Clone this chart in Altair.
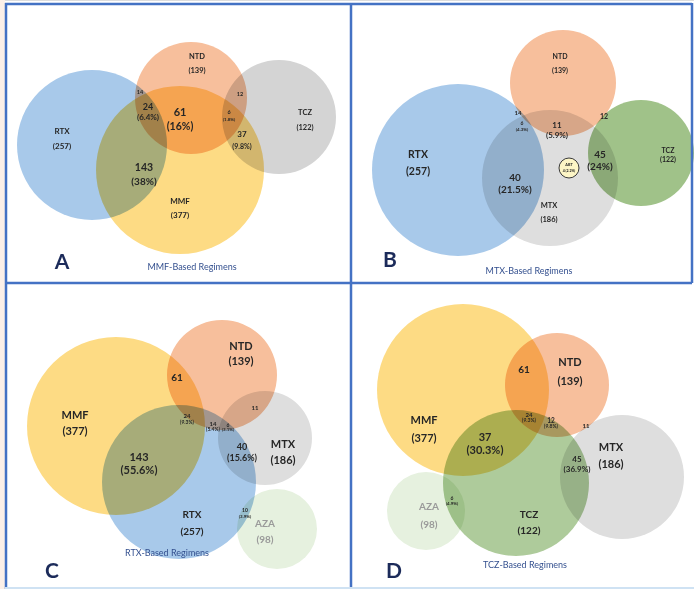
import altair as alt
import pandas as pd

W, H = 694, 589

# ---------------- data (counts / labels) ----------------
panels = ["A", "B", "C", "D"]
captions = ["MMF-Based Regimens", "MTX-Based Regimens", "RTX-Based Regimens", "TCZ-Based Regimens"]

set_sizes = {"RTX": 257, "MMF": 377, "NTD": 139, "TCZ": 122, "MTX": 186, "AZA": 98}

# circles per panel (set name)
circ_sets_A = ["RTX", "MMF", "NTD", "TCZ"]
circ_sets_B = ["RTX", "NTD", "MTX", "TCZ"]
circ_sets_C = ["MMF", "NTD", "MTX", "RTX", "AZA"]
circ_sets_D = ["MMF", "NTD", "MTX", "TCZ", "AZA"]

# intersection labels per panel (count, percent or "")
inter_A = [("14", ""), ("24", "(6.4%)"), ("61", "(16%)"), ("12", ""), ("6", "(1.8%)"),
           ("37", "(9.8%)"), ("143", "(38%)")]
inter_B = [("14", ""), ("6", "(4.3%)"), ("11", "(5.9%)"), ("12", ""), ("45", "(24%)"),
           ("40", "(21.5%)")]
inter_C = [("61", ""), ("24", "(9.3%)"), ("14", "(5.4%)"), ("6", "(3.1%)"), ("11", ""),
           ("40", "(15.6%)"), ("143", "(55.6%)"), ("10", "(3.9%)")]
inter_D = [("61", ""), ("24", "(9.3%)"), ("12", "(9.8%)"), ("11", ""), ("37", "(30.3%)"),
           ("45", "(36.9%)"), ("6", "(4.9%)")]
abt_label = ("ABT", "4 (2.2%)")

# ---------------- layout (positions, radii, styles) ----------------
colors = {"RTX": "#a8c9ea", "MMF": "#fddb84", "NTD": "#f7bf9c", "MTX": "#dedede",
          "AZA": "#e6f1df"}
tcz_color = {"A": "#d4d4d4", "B": "#a0c289", "D": "#aecb9b"}

circ_layout = {
    "A": [(92, 145, 75), (180, 170, 84), (191, 98, 56), (279, 117, 57)],
    "B": [(458, 170, 86), (563, 83, 53), (550, 178, 68), (641, 153, 53)],
    "C": [(116, 426, 89), (222, 375, 55), (265, 438, 47), (179, 482, 77), (277, 529, 40)],
    "D": [(463, 390, 86), (557, 385, 52), (622, 477, 62), (516, 483, 73), (426, 511, 39)],
}
# set-name label positions: (x, y_name, y_count, font size)
setlab_layout = {
    "A": [(62, 132, 147, 8), (180, 202, 216, 8), (197, 57, 71, 7.5), (305, 113, 128, 7.5)],
    "B": [(418, 155, 172, 10.5), (560, 57, 71, 7), (549, 206, 220, 7.5), (668, 151, 160, 7)],
    "C": [(75, 416, 432, 11), (241, 347, 362, 11), (283, 445, 461, 11), (192, 515, 532, 10),
          (265, 524, 540, 10)],
    "D": [(424, 421, 439, 11), (570, 363, 382, 11), (611, 448, 465, 11), (529, 515, 531, 10),
          (429, 507, 525, 10)],
}
# intersection label positions: (x, y_count, y_pct, size_count, size_pct)
inter_layout = {
    "A": [(140, 92, 0, 5.5, 0), (148, 107, 118, 9, 8), (180, 113, 127, 11, 10.5),
          (240, 94, 0, 5.5, 0), (229, 112, 120, 5.5, 4.5), (242, 135, 147, 8, 7),
          (144, 168, 182, 10.5, 10)],
    "B": [(518, 113, 0, 6, 0), (522, 123, 130, 5, 4.5), (557, 126, 136, 8, 8),
          (604, 117, 0, 7, 0), (600, 155, 167, 10, 10), (515, 178, 190, 10, 10)],
    "C": [(177, 378, 0, 10, 0), (187, 416, 422, 6, 5), (213, 424, 429, 6, 5),
          (228, 425, 430, 5, 4.5), (255, 408, 0, 6, 0), (242, 447, 458, 9, 9),
          (139, 458, 471, 11, 11), (245, 510, 517, 5, 4.5)],
    "D": [(524, 370, 0, 10, 0), (529, 415, 420, 6, 5), (551, 421, 426, 6.5, 5),
          (586, 426, 0, 6, 0), (485, 438, 451, 11, 11), (577, 460, 470, 8, 8),
          (452, 498, 504, 5, 4.5)],
}
letter_layout = {"A": (62, 263), "B": (390, 261), "C": (52, 572), "D": (394, 572)}
caption_layout = {"A": (192, 267), "B": (529, 271), "C": (167, 553), "D": (525, 565)}

# ---------------- build tables ----------------
circ_rows = []
set_lists = {"A": circ_sets_A, "B": circ_sets_B, "C": circ_sets_C, "D": circ_sets_D}
for p in panels:
    for name, (cx, cy, r) in zip(set_lists[p], circ_layout[p]):
        col = tcz_color[p] if name == "TCZ" else colors[name]
        circ_rows.append({"panel": p, "set": name, "x": cx, "y": cy, "size": (2 * r) ** 2,
                          "color": col})
circ_df = pd.DataFrame(circ_rows)

text_rows = []
DARK = "#262626"
for p in panels:
    for name, (x, yn, yc, fs) in zip(set_lists[p], setlab_layout[p]):
        col = "#9a9a9a" if name == "AZA" else DARK
        text_rows.append({"t": name, "x": x, "y": yn, "s": fs, "c": col})
        text_rows.append({"t": f"({set_sizes[name]})", "x": x, "y": yc, "s": fs, "c": col})
inter_lists = {"A": inter_A, "B": inter_B, "C": inter_C, "D": inter_D}
for p in panels:
    for (cnt, pct), (x, yc, yp, sc, sp) in zip(inter_lists[p], inter_layout[p]):
        text_rows.append({"t": cnt, "x": x, "y": yc, "s": sc, "c": DARK})
        if pct:
            text_rows.append({"t": pct, "x": x, "y": yp, "s": sp, "c": DARK})
text_rows.append({"t": abt_label[0], "x": 569, "y": 165, "s": 3.8, "c": DARK})
text_rows.append({"t": abt_label[1], "x": 569, "y": 171, "s": 3.5, "c": DARK})
text_df = pd.DataFrame(text_rows)

letter_df = pd.DataFrame([{"t": p, "x": letter_layout[p][0], "y": letter_layout[p][1]} for p in panels])
cap_df = pd.DataFrame([{"t": c, "x": caption_layout[p][0], "y": caption_layout[p][1]}
                       for p, c in zip(panels, captions)])

frame_df = pd.DataFrame([
    {"x": 5, "x2": 692, "y": 4, "y2": 4},
    {"x": 6, "x2": 6, "y": 3, "y2": 589},
    {"x": 351, "x2": 351, "y": 3, "y2": 589},
    {"x": 5, "x2": 692, "y": 283, "y2": 283},
    {"x": 692, "x2": 692, "y": 3, "y2": 283},
])
bottom_df = pd.DataFrame([{"x": 5, "x2": 694, "y": 588, "y2": 588}])
strip_df = pd.DataFrame([{"x": 0, "x2": 5, "y": 0, "y2": 589}])

xs = alt.Scale(domain=[0, W], nice=False, zero=False)
ys = alt.Scale(domain=[0, H], nice=False, zero=False, reverse=True)
X = lambda f="x": alt.X(f, type="quantitative", scale=xs, axis=None)
Y = lambda f="y": alt.Y(f, type="quantitative", scale=ys, axis=None)

strip = alt.Chart(strip_df).mark_rect(color="#fcf0e8").encode(
    x=X(), x2="x2", y=Y(), y2="y2")

circles = alt.Chart(circ_df).mark_circle(opacity=1, blend="multiply").encode(
    x=X(), y=Y(),
    size=alt.Size("size:Q", scale=None),
    color=alt.Color("color:N", scale=None),
)

abt = alt.Chart(pd.DataFrame([{"x": 569, "y": 168, "size": 20 ** 2}])).mark_circle(
    opacity=1, color="#fdf6c6", stroke="#3a3a3a", strokeWidth=1).encode(
    x=X(), y=Y(), size=alt.Size("size:Q", scale=None))

texts = alt.Chart(text_df).mark_text(font="Lato", fontWeight="bold", baseline="middle",
                                     align="center").encode(
    x=X(), y=Y(), text="t:N",
    size=alt.Size("s:Q", scale=None),
    color=alt.Color("c:N", scale=None),
)

letters = alt.Chart(letter_df).mark_text(font="Lato", fontWeight="bold", fontSize=21,
                                         color="#1c2b5a", baseline="middle").encode(
    x=X(), y=Y(), text="t:N")

caps = alt.Chart(cap_df).mark_text(font="Lato", fontSize=9, color="#34508f",
                                   baseline="middle").encode(
    x=X(), y=Y(), text="t:N")

frame = alt.Chart(frame_df).mark_rule(color="#4472c4", strokeWidth=2.5).encode(
    x=X(), x2="x2", y=Y(), y2="y2")
bottom = alt.Chart(bottom_df).mark_rule(color="#cfe2f3", strokeWidth=2).encode(
    x=X(), x2="x2", y=Y(), y2="y2")

chart = alt.layer(strip, circles, abt, texts, letters, caps, frame, bottom).properties(
    width=W, height=H, padding=0,
    autosize=alt.AutoSizeParams(type="none"),
).configure_view(stroke=None).configure(background="white")

chart.save("out.html", embed_options={"renderer": "svg", "actions": False})
